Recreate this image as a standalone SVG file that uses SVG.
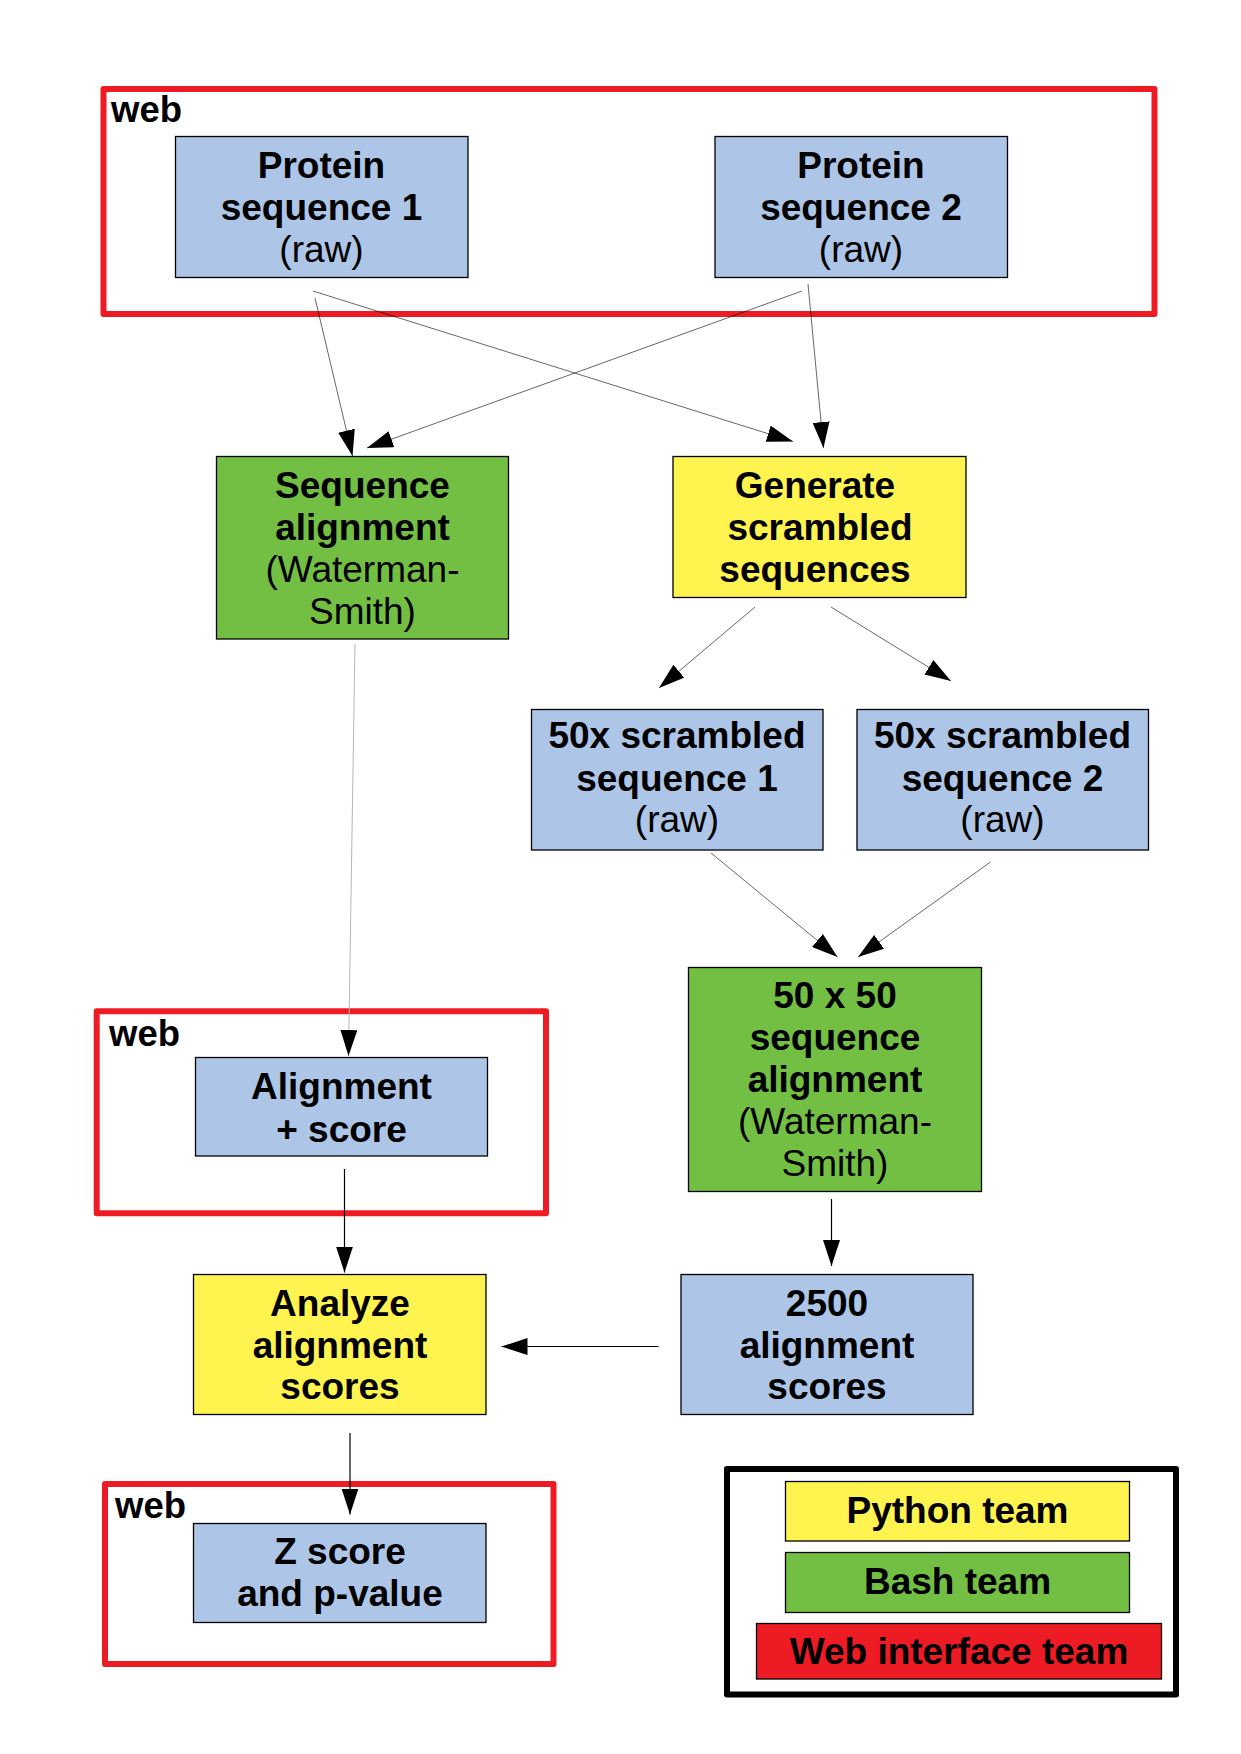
<svg xmlns="http://www.w3.org/2000/svg" width="1241" height="1754" viewBox="0 0 1241 1754">
<style>
.t{font-family:"Liberation Sans",Arial,sans-serif;font-size:37px;fill:#000;text-anchor:middle}
.b{font-weight:bold}
.n{font-weight:normal}
.web{font-family:"Liberation Sans",Arial,sans-serif;font-size:36.5px;font-weight:bold;fill:#000}
.blue{fill:#adc5e7;stroke:#000;stroke-width:1.3}
.green{fill:#72bf44;stroke:#000;stroke-width:1.3}
.yellow{fill:#fff350;stroke:#000;stroke-width:1.3}
.redfill{fill:#ed1c24;stroke:#000;stroke-width:1.3}
.frame{fill:none;stroke:#ed1c24;stroke-width:6;stroke-linejoin:round}
.legend{fill:none;stroke:#000;stroke-width:6;stroke-linejoin:round}
.c{fill:none;stroke:#000;stroke-width:1.2}
.g{fill:none;stroke:#000;stroke-width:0.6}
.lg{fill:none;stroke:#b5b5b5;stroke-width:1}
</style>
<defs>
<marker id="ah" markerUnits="userSpaceOnUse" markerWidth="26" markerHeight="17" refX="26" refY="8.5" orient="auto">
<path d="M0,0 L26,8.5 L0,17 z" fill="#000"/>
</marker>
</defs>
<rect width="1241" height="1754" fill="#fff"/>

<g id="web-frame-top">
<rect class="frame" x="103.5" y="89" width="1051" height="225"/>
<text class="web" x="111" y="121.5">web</text>
</g>
<g id="web-frame-mid">
<rect class="frame" x="96.7" y="1011.3" width="449.3" height="202"/>
<text class="web" x="109" y="1045.5">web</text>
</g>
<g id="web-frame-bottom">
<rect class="frame" x="105" y="1484" width="448.5" height="180"/>
<text class="web" x="115" y="1517.5">web</text>
</g>

<g id="protein1">
<rect class="blue" x="175.5" y="136.5" width="292.5" height="141"/>
<text class="t"><tspan class="b" x="321.5" y="178">Protein</tspan><tspan class="b" x="321.5" y="220">sequence 1</tspan><tspan class="n" x="321.5" y="262">(raw)</tspan></text>
</g>
<g id="protein2">
<rect class="blue" x="715" y="136.5" width="292.5" height="141"/>
<text class="t"><tspan class="b" x="861" y="178">Protein</tspan><tspan class="b" x="861" y="220">sequence 2</tspan><tspan class="n" x="861" y="262">(raw)</tspan></text>
</g>
<g id="seqalign">
<rect class="green" x="216.5" y="456.5" width="292" height="182.5"/>
<text class="t"><tspan class="b" x="362.5" y="498">Sequence</tspan><tspan class="b" x="362.5" y="540">alignment</tspan><tspan class="n" x="362.5" y="582">(Waterman-</tspan><tspan class="n" x="362.5" y="624">Smith)</tspan></text>
</g>
<g id="generate">
<rect class="yellow" x="673" y="456.5" width="293" height="141"/>
<text class="t"><tspan class="b" x="815" y="498">Generate</tspan><tspan class="b" x="820" y="540">scrambled</tspan><tspan class="b" x="815" y="582">sequences</tspan></text>
</g>
<g id="scrambled1">
<rect class="blue" x="531.5" y="709.5" width="291.5" height="140.5"/>
<text class="t"><tspan class="b" x="677" y="748">50x scrambled</tspan><tspan class="b" x="677" y="791">sequence 1</tspan><tspan class="n" x="677" y="832">(raw)</tspan></text>
</g>
<g id="scrambled2">
<rect class="blue" x="857" y="709.5" width="291.5" height="140.5"/>
<text class="t"><tspan class="b" x="1002.5" y="748">50x scrambled</tspan><tspan class="b" x="1002.5" y="791">sequence 2</tspan><tspan class="n" x="1002.5" y="832">(raw)</tspan></text>
</g>
<g id="align50">
<rect class="green" x="688.5" y="967.5" width="293" height="224"/>
<text class="t"><tspan class="b" x="835" y="1008">50 x 50</tspan><tspan class="b" x="835" y="1050">sequence</tspan><tspan class="b" x="835" y="1092">alignment</tspan><tspan class="n" x="835" y="1134">(Waterman-</tspan><tspan class="n" x="835" y="1176">Smith)</tspan></text>
</g>
<g id="alignscore">
<rect class="blue" x="195.5" y="1057.5" width="292" height="98.5"/>
<text class="t"><tspan class="b" x="341.5" y="1099">Alignment</tspan><tspan class="b" x="341.5" y="1142">+ score</tspan></text>
</g>
<g id="analyze">
<rect class="yellow" x="193.5" y="1274.5" width="292.5" height="140"/>
<text class="t"><tspan class="b" x="340" y="1316">Analyze</tspan><tspan class="b" x="340" y="1358">alignment</tspan><tspan class="b" x="340" y="1399">scores</tspan></text>
</g>
<g id="scores2500">
<rect class="blue" x="681" y="1274.5" width="292" height="140"/>
<text class="t"><tspan class="b" x="827" y="1316">2500</tspan><tspan class="b" x="827" y="1358">alignment</tspan><tspan class="b" x="827" y="1399">scores</tspan></text>
</g>
<g id="zscore">
<rect class="blue" x="193.5" y="1523.5" width="292.5" height="99"/>
<text class="t"><tspan class="b" x="340" y="1564">Z score</tspan><tspan class="b" x="340" y="1606">and p-value</tspan></text>
</g>

<g id="legend">
<rect class="legend" x="727" y="1469" width="449" height="225.5"/>
<rect class="yellow" x="785.5" y="1481.5" width="344" height="59.5"/>
<text class="t b" x="957.5" y="1523">Python team</text>
<rect class="green" x="785.5" y="1552.5" width="344" height="60"/>
<text class="t b" x="957.5" y="1594">Bash team</text>
<rect class="redfill" x="756.5" y="1623.5" width="405" height="55.5"/>
<text class="t b" x="959" y="1664">Web interface team</text>
</g>

<g id="connectors">
<line class="g" x1="315" y1="298" x2="352.5" y2="456" marker-end="url(#ah)"/>
<line class="g" x1="313" y1="291" x2="793" y2="441.5" marker-end="url(#ah)"/>
<line class="g" x1="802" y1="291" x2="367" y2="448" marker-end="url(#ah)"/>
<line class="g" x1="808" y1="284" x2="823.5" y2="448" marker-end="url(#ah)"/>
<line class="g" x1="755" y1="607" x2="659" y2="688" marker-end="url(#ah)"/>
<line class="g" x1="831" y1="607" x2="951" y2="681" marker-end="url(#ah)"/>
<line class="lg" x1="355" y1="644" x2="348.5" y2="1056" marker-end="url(#ah)"/>
<line class="g" x1="711" y1="853" x2="837.5" y2="957" marker-end="url(#ah)"/>
<line class="g" x1="990.5" y1="862" x2="858" y2="957" marker-end="url(#ah)"/>
<line class="c" x1="344.5" y1="1169" x2="344.5" y2="1272.5" marker-end="url(#ah)"/>
<line class="c" x1="831.5" y1="1199" x2="831.5" y2="1266" marker-end="url(#ah)"/>
<line class="c" x1="658.5" y1="1346.5" x2="501.5" y2="1346.5" marker-end="url(#ah)"/>
<line class="c" x1="350" y1="1433" x2="350" y2="1514.5" marker-end="url(#ah)"/>
</g>
</svg>
